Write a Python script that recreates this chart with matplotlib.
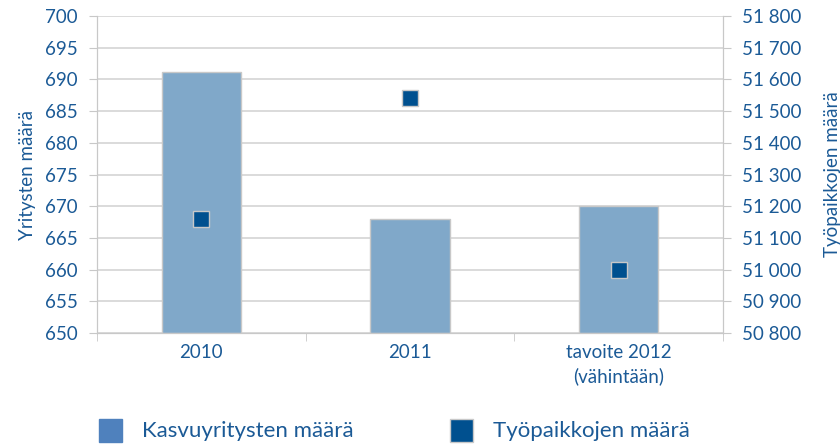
import matplotlib
matplotlib.use("Agg")
import matplotlib.pyplot as plt
from matplotlib.ticker import FuncFormatter
from matplotlib.patches import Rectangle

categories = ["2010", "2011", "tavoite 2012\n(vähintään)"]
kasvuyritykset = [691.2, 668.0, 670.0]
tyopaikat = [51160, 51540, 51000]
series_names = ["Kasvuyritysten määrä", "Työpaikkojen määrä"]

left_ticks = list(range(650, 701, 5))
right_ticks = list(range(50800, 51801, 100))

text_color = "#1b5a96"
bar_color = "#80a8c9"
marker_color = "#00508f"
legend_bar_color = "#4f81bd"
grid_color = "#d4d4d4"
edge = "#c8c8c8"

plt.rcParams['font.family'] = ['Lato', 'DejaVu Sans']

W, H = 840, 444
fig = plt.figure(figsize=(8.4, 4.44), dpi=100)
ax = fig.add_axes([97/W, 1 - 333/H, (723-97)/W, (333-16)/H])
x = list(range(len(categories)))
ax.bar(x, [v - 650 for v in kasvuyritykset], bottom=650, width=0.38,
       color=bar_color, edgecolor=edge, linewidth=1, zorder=2)
ax.set_ylim(650, 700)
ax.set_xlim(-0.5, 2.5)
ax.set_yticks(left_ticks)
ax.yaxis.grid(True, color=grid_color, linewidth=1.2, zorder=0)
ax.set_axisbelow(True)
ax.set_xticks(x)
ax.set_xticklabels(categories, color=text_color, fontsize=13.5, linespacing=1.4)
ax.set_xticks([-0.5, 0.5, 1.5, 2.5], minor=True)
ax.tick_params(axis='x', which='major', length=0, pad=8)
ax.tick_params(axis='x', which='minor', length=6, color=edge, direction='out')
ax.tick_params(axis='y', labelcolor=text_color, labelsize=13.5, length=6,
               color=edge, direction='out', pad=8)
ax.spines['top'].set_visible(False)
for s in ['left', 'right', 'bottom']:
    ax.spines[s].set_color(edge)
ax.set_ylabel("Yritysten määrä", color=text_color, fontsize=13.5, labelpad=6)

ax2 = ax.twinx()
ax2.plot(x, tyopaikat, linestyle='none', marker='s', markersize=11,
         markerfacecolor=marker_color, markeredgecolor=edge,
         markeredgewidth=1, zorder=3)
ax2.set_ylim(50800, 51800)
ax2.set_yticks(right_ticks)
ax2.yaxis.set_major_formatter(FuncFormatter(lambda v, p: f"{int(v):,}".replace(",", " ")))
ax2.tick_params(axis='y', labelcolor=text_color, labelsize=13.5, length=6,
                color=edge, direction='out', pad=8)
ax2.spines['top'].set_visible(False)
for s in ['left', 'right', 'bottom']:
    ax2.spines[s].set_color(edge)
ax2.set_ylabel("Työpaikkojen määrä", color=text_color, fontsize=13.5, labelpad=16)

# Legend (drawn manually to match placement)
sw = 23
legend_items = [(99, 142, legend_bar_color, legend_bar_color),
                (450, 493, marker_color, edge)]
for (sx, tx, fc, ec), name in zip(legend_items, series_names):
    fig.patches.append(Rectangle((sx/W, 1 - 442/H), sw/W, sw/H,
                                 transform=fig.transFigure, facecolor=fc,
                                 edgecolor=ec, linewidth=1))
    fig.text(tx/W, 1 - 431/H, name, color=text_color, fontsize=16,
             va='center', ha='left')

fig.savefig("out.png", dpi=100)
